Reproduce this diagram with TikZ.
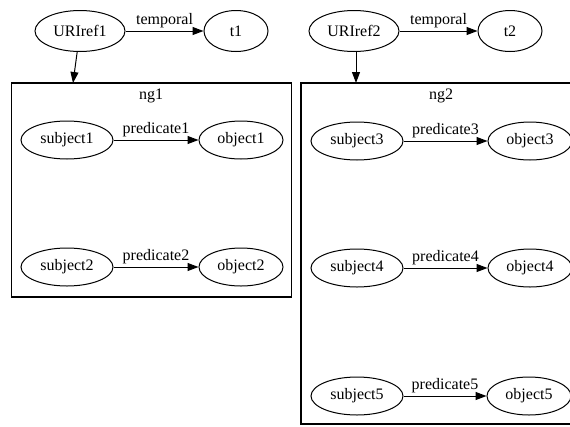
\documentclass[tikz,border=0pt]{standalone}
\usepackage{fontspec}
\newfontfamily\graphfont{Liberation Serif}
\usetikzlibrary{shapes.geometric,arrows.meta}

\tikzset{
  res/.style={draw, ellipse, line width=1pt, inner sep=0pt, minimum height=38pt},
  subj/.style={res, minimum width=92pt},
  obj/.style={res, minimum width=84pt},
  uri/.style={res, minimum width=90pt, minimum height=41pt},
  tval/.style={res, minimum width=64pt, minimum height=41pt},
  rel/.style={-{Triangle[length=11pt,width=8pt]}, line width=1pt},
  lbl/.style={midway, above, inner sep=3pt},
  graphbox/.style={draw, rectangle, line width=1.3pt, inner sep=0pt}
}

\begin{document}
\begin{tikzpicture}[x=1pt, y=-1pt, font=\graphfont\fontsize{16}{19}\selectfont]
  \useasboundingbox (0,0) rectangle (570,426);
  \clip (0,0) rectangle (570,426);

  % named graph boxes
  \node[graphbox, minimum width=280pt, minimum height=214pt] (ng1box) at (151.5,190) {};
  \node[graphbox, minimum width=280pt, minimum height=341pt] (ng2box) at (441,253.5) {};
  \node (ng1) at (151,96) {ng1};
  \node (ng2) at (441,96) {ng2};

  % graph names and time
  \node[uri] (uri1) at (80,31) {URIref1};
  \node[tval] (t1) at (236,31) {t1};
  \node[uri] (uri2) at (354,31) {URIref2};
  \node[tval] (t2) at (510,31) {t2};
  \coordinate (in1) at (73,83);
  \coordinate (in2) at (356,83);

  \draw[rel] (uri1) -- node[lbl] {temporal} (t1);
  \draw[rel] (uri2) -- node[lbl] {temporal} (t2);
  \draw[rel] (uri1) -- (in1);
  \draw[rel] (uri2.south -| in2) -- (in2);

  % ng1
  \node[subj] (s1) at (67,140) {subject1};
  \node[obj] (o1) at (241,140) {object1};
  \node[subj] (s2) at (67,267) {subject2};
  \node[obj] (o2) at (241,267) {object2};
  \draw[rel] (s1) -- node[lbl] {predicate1} (o1);
  \draw[rel] (s2) -- node[lbl] {predicate2} (o2);

  % ng2
  \node[subj] (s3) at (357,141) {subject3};
  \node[obj] (o3) at (530,141) {object3};
  \node[subj] (s4) at (357,268) {subject4};
  \node[obj] (o4) at (530,268) {object4};
  \node[subj] (s5) at (357,396) {subject5};
  \node[obj] (o5) at (529,396) {object5};
  \draw[rel] (s3) -- node[lbl] {predicate3} (o3);
  \draw[rel] (s4) -- node[lbl] {predicate4} (o4);
  \draw[rel] (s5) -- node[lbl] {predicate5} (o5);
\end{tikzpicture}
\end{document}
